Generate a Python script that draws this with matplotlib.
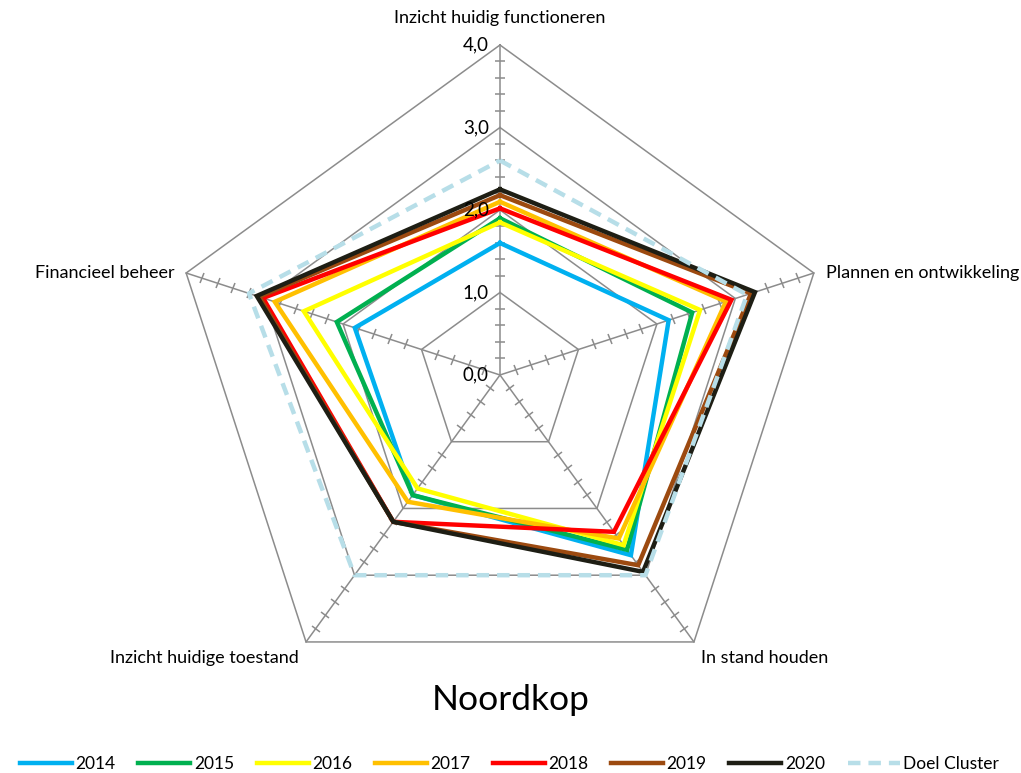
import numpy as np
import matplotlib.pyplot as plt
from matplotlib.markers import MarkerStyle
from matplotlib.transforms import Affine2D

plt.rcParams['font.family'] = ['Lato', 'DejaVu Sans']

categories = ["Inzicht huidig functioneren", "Plannen en ontwikkeling", "In stand houden",
              "Inzicht huidige toestand", "Financieel beheer"]
series_names = ["2014", "2015", "2016", "2017", "2018", "2019", "2020"]
v2014 = [1.6, 2.15, 2.7, 1.8, 1.85]
v2015 = [1.9, 2.45, 2.62, 1.8, 2.08]
v2016 = [1.85, 2.55, 2.55, 1.7, 2.5]
v2017 = [2.1, 2.88, 2.45, 1.9, 2.87]
v2018 = [2.02, 2.95, 2.35, 2.2, 3.02]
v2019 = [2.18, 3.2, 2.85, 2.2, 3.07]
v2020 = [2.25, 3.25, 2.95, 2.2, 3.1]
doel = [2.6, 3.15, 3.0, 3.0, 3.2]
ring_labels = ["0,0", "1,0", "2,0", "3,0", "4,0"]

colors = ["#00B0F0", "#00B050", "#FFFF00", "#FFC000", "#FF0000", "#9C4A10", "#1E1E14"]
doel_color = "#B7DEE8"
grid_color = "#8C8C8C"

n = len(categories)
theta = np.arange(n) * 2 * np.pi / n
theta_c = np.append(theta, theta[0])

def closed(v):
    return np.append(v, v[0])

fig = plt.figure(figsize=(10.21, 7.73), dpi=100)
ax = fig.add_axes([0.1665, 0.088, 0.6464, 0.8538], projection='polar')
ax.set_theta_offset(np.pi / 2)
ax.set_theta_direction(-1)
ax.set_ylim(0, 4)
ax.set_xticks([])
ax.set_yticks([])
ax.grid(False)
ax.spines['polar'].set_visible(False)
ax.patch.set_alpha(0)

# pentagon grid
for r in [1, 2, 3, 4]:
    ax.plot(theta_c, [r] * (n + 1), color=grid_color, lw=1.1, clip_on=False, zorder=1)
# spokes + minor ticks
minor = [round(x, 1) for x in np.arange(0.2, 4.0, 0.2) if abs(x - round(x)) > 1e-6]
for i, t in enumerate(theta):
    ax.plot([t, t], [0, 4], color=grid_color, lw=1.1, clip_on=False, zorder=1)
    ang = 90 - 72 * i + 90
    m = MarkerStyle('_', transform=Affine2D().rotate_deg(ang))
    ax.plot([t] * len(minor), minor, ls='none', marker=m, ms=7, mew=1.1,
            color=grid_color, clip_on=False, zorder=1)

# ring labels
for r, lab in enumerate(ring_labels):
    ax.annotate(lab, xy=(0, r), xytext=(-8, 0), textcoords='offset points',
                ha='right', va='center', fontsize=13.5, annotation_clip=False, zorder=5)

# category labels
offsets = [((0, 14), 'center', 'bottom'), ((9, 0), 'left', 'center'),
           ((5, -6), 'left', 'top'), ((-5, -6), 'right', 'top'), ((-8, 0), 'right', 'center')]
for t, lab, (off, ha, va) in zip(theta, categories, offsets):
    ax.annotate(lab, xy=(t, 4), xytext=off, textcoords='offset points',
                ha=ha, va=va, fontsize=13, annotation_clip=False)

data = [v2014, v2015, v2016, v2017, v2018, v2019, v2020]
for name, vals, c in zip(series_names, data, colors):
    ax.plot(theta_c, closed(vals), color=c, lw=3.2, label=name, zorder=3,
            solid_joinstyle='miter')
ax.plot(theta_c, closed(doel), color=doel_color, lw=3.2, ls=(0, (2.8, 1.8)),
        label="Doel Cluster", zorder=4)

fig.text(0.5, 0.094, "Noordkop", ha='center', va='center', fontsize=25.5)

handles, labels = ax.get_legend_handles_labels()
fig.legend(handles, labels, loc='lower center', bbox_to_anchor=(0.499, -0.019), ncol=8,
           frameon=False, fontsize=12.5, handlelength=3.0, columnspacing=1.3,
           handletextpad=0.2)

fig.savefig("out.png", dpi=100)
